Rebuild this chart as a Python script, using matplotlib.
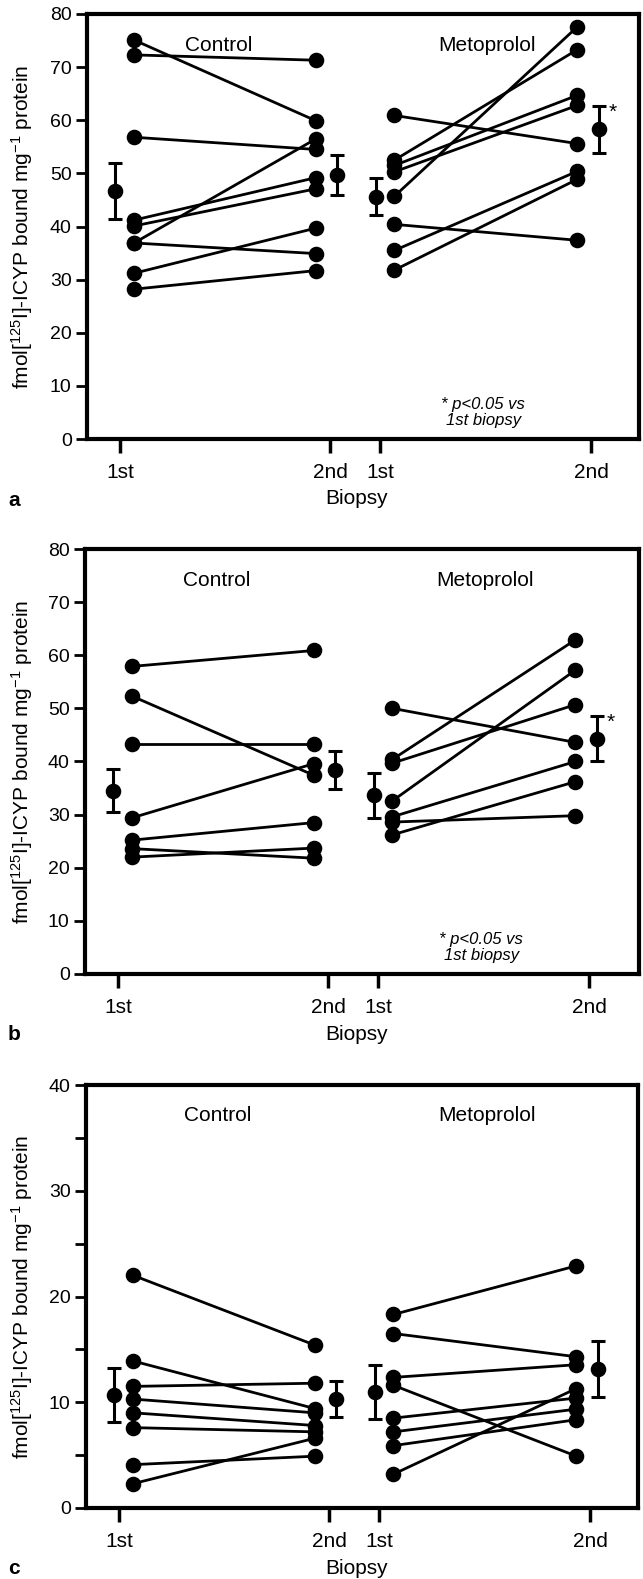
import matplotlib
matplotlib.use("Agg")
import matplotlib.pyplot as plt
from matplotlib.ticker import MultipleLocator

plt.rcParams['font.family'] = ['Liberation Sans', 'DejaVu Sans']
plt.rcParams['mathtext.fontset'] = 'custom'
plt.rcParams['mathtext.rm'] = 'Liberation Sans'
plt.rcParams['mathtext.it'] = 'Liberation Sans:italic'

# ---------------- data ----------------
tick_labels = ['1st', '2nd', '1st', '2nd']
group_names = ['Control', 'Metoprolol']

# panel a
ctrl_a_1st = [75.1, 72.3, 56.8, 41.2, 40.1, 36.9, 36.9, 31.2, 28.2]
ctrl_a_2nd = [59.9, 71.3, 54.5, 49.2, 47.1, 56.5, 34.9, 39.7, 31.7]
ctrl_a_mean = [46.7, 49.7]
ctrl_a_sem = [5.2, 3.8]
met_a_1st = [60.9, 52.5, 51.5, 50.3, 45.7, 40.4, 35.5, 31.8]
met_a_2nd = [55.6, 73.3, 64.7, 62.8, 77.6, 37.4, 50.4, 48.9]
met_a_mean = [45.6, 58.3]
met_a_sem = [3.5, 4.45]

# panel b
ctrl_b_1st = [57.9, 52.3, 43.2, 29.4, 25.2, 23.6, 22.0]
ctrl_b_2nd = [60.9, 37.4, 43.2, 39.6, 28.5, 21.8, 23.7]
ctrl_b_mean = [34.5, 38.4]
ctrl_b_sem = [4.1, 3.65]
met_b_1st = [50.0, 40.4, 39.7, 32.6, 29.6, 28.6, 26.2]
met_b_2nd = [43.6, 62.9, 50.7, 57.2, 40.0, 29.8, 36.2]
met_b_mean = [33.6, 44.3]
met_b_sem = [4.2, 4.3]

# panel c
ctrl_c_1st = [22.0, 13.9, 11.5, 10.3, 9.0, 7.6, 4.1, 2.3]
ctrl_c_2nd = [15.4, 9.4, 11.8, 9.0, 7.8, 7.2, 4.9, 6.6]
ctrl_c_mean = [10.7, 10.3]
ctrl_c_sem = [2.55, 1.7]
met_c_1st = [18.3, 16.5, 12.35, 11.6, 8.5, 7.2, 5.9, 3.2]
met_c_2nd = [22.9, 14.3, 13.55, 4.9, 10.4, 9.35, 8.35, 11.3]
met_c_mean = [11.0, 13.1]
met_c_sem = [2.55, 2.65]

ylabel = r'fmol[$^{125}$I]-ICYP bound mg$^{-1}$ protein'
note_text = '* p<0.05 vs\n1st biopsy'

panels = [
    dict(letter='a', ymax=80, ymajor=10, yminor=None,
         ctrl=(ctrl_a_1st, ctrl_a_2nd, ctrl_a_mean, ctrl_a_sem),
         met=(met_a_1st, met_a_2nd, met_a_mean, met_a_sem),
         star=True, note=True, box=(87, 639, 14, 439)),
    dict(letter='b', ymax=80, ymajor=10, yminor=None,
         ctrl=(ctrl_b_1st, ctrl_b_2nd, ctrl_b_mean, ctrl_b_sem),
         met=(met_b_1st, met_b_2nd, met_b_mean, met_b_sem),
         star=True, note=True, box=(85, 639, 549, 974)),
    dict(letter='c', ymax=40, ymajor=10, yminor=5,
         ctrl=(ctrl_c_1st, ctrl_c_2nd, ctrl_c_mean, ctrl_c_sem),
         met=(met_c_1st, met_c_2nd, met_c_mean, met_c_sem),
         star=False, note=False, box=(86, 638, 1085, 1508)),
]

# ---------------- layout ----------------
W, H = 643, 1579
fig = plt.figure(figsize=(W / 100, H / 100), dpi=100)

tick_pos = [0.0, 1.0, 1.24, 2.245]
pt_off = 0.067
mean_off_1 = -0.022
mean_off_2 = 0.035
px_per_unit = 210.0
left_gap_px = 33.0

lw_line = 2.0
ms = 10.2

for p in panels:
    l, r, t, b = p['box']
    ax = fig.add_axes([l / W, 1 - b / H, (r - l) / W, (b - t) / H])
    width_px = r - l
    ax.set_xlim(-left_gap_px / px_per_unit, (width_px - left_gap_px) / px_per_unit)
    ax.set_ylim(0, p['ymax'])

    for gi, grp in enumerate([p['ctrl'], p['met']]):
        first, second, mean, sem = grp
        x1 = tick_pos[2 * gi] + pt_off
        x2 = tick_pos[2 * gi + 1] - pt_off
        for v1, v2 in zip(first, second):
            ax.plot([x1, x2], [v1, v2], '-o', color='black', lw=lw_line,
                    ms=ms, clip_on=False, zorder=3)
        xm = [tick_pos[2 * gi] + mean_off_1, tick_pos[2 * gi + 1] + mean_off_2]
        ax.errorbar(xm, mean, yerr=sem, fmt='o', color='black', ms=ms,
                    elinewidth=2.2, capsize=4.8, capthick=2.2, zorder=4)
        ax.text([0.47, 1.75][gi], 0.927, group_names[gi],
                transform=ax.get_xaxis_transform(), ha='center', va='center',
                fontsize=15)
        if gi == 1 and p['star']:
            ax.annotate('*', xy=(xm[1], mean[1] + sem[1]), xytext=(10, -9),
                        textcoords='offset points', ha='center', va='baseline',
                        fontsize=15)

    if p['note']:
        ax.text(1.73, 0.062, note_text, transform=ax.get_xaxis_transform(),
                ha='center', va='center', fontsize=12, style='italic',
                linespacing=1.05)

    for s in ax.spines.values():
        s.set_linewidth(3.0)

    ax.yaxis.set_major_locator(MultipleLocator(p['ymajor']))
    if p['yminor']:
        ax.yaxis.set_minor_locator(MultipleLocator(p['yminor']))
        ax.tick_params(axis='y', which='minor', direction='out', length=8,
                       width=2.0)
    ax.tick_params(axis='y', which='major', direction='out', length=8,
                   width=2.0, labelsize=14, pad=3)
    ax.set_xticks(tick_pos)
    ax.set_xticklabels(tick_labels)
    ax.tick_params(axis='x', direction='out', length=10, width=2.5,
                   labelsize=15, pad=7)

    ax.set_ylabel(ylabel, fontsize=15)
    ax.yaxis.set_label_coords((35 - l) / width_px, 0.5)

    fig.text(357 / W, 1 - (b + 60) / H, 'Biopsy', ha='center', va='center',
             fontsize=15)
    fig.text(14 / W, 1 - (b + 61) / H, p['letter'], ha='center', va='center',
             fontsize=15, fontweight='bold')

fig.savefig('out.png', dpi=100)
